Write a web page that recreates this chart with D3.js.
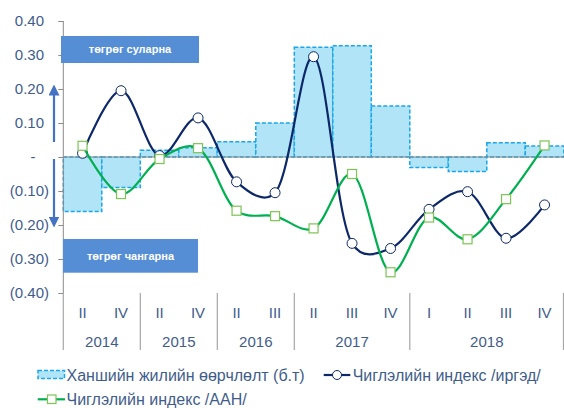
<!DOCTYPE html>
<html><head><meta charset="utf-8">
<script src="https://cdn.jsdelivr.net/npm/d3@7"></script>
<style>body{margin:0;background:#fff}svg{display:block;font-family:"Liberation Sans",Arial,sans-serif}</style>
</head><body><svg id="c" width="564" height="408"></svg>
<script>
const quarters = ["II","IV","II","IV","II","III","II","III","IV","I","II","III","IV"];
const years = [{label:"2014",start:0,end:2},{label:"2015",start:2,end:4},{label:"2016",start:4,end:6},{label:"2017",start:6,end:9},{label:"2018",start:9,end:13}];
const rateChange = [-0.16,-0.09,0.02,0.027,0.045,0.10,0.323,0.327,0.15,-0.031,-0.043,0.042,0.032];
const indexCitizens = [0.011,0.195,0.004,0.115,-0.073,-0.105,0.295,-0.254,-0.269,-0.154,-0.102,-0.239,-0.141];
const indexBusiness = [0.033,-0.109,-0.006,0.026,-0.158,-0.174,-0.21,-0.05,-0.339,-0.178,-0.242,-0.124,0.034];
const yTicks = [0.4,0.3,0.2,0.1,0,-0.1,-0.2,-0.3,-0.4];
const yTickLabels = ["0.40","0.30","0.20","0.10","-","(0.10)","(0.20)","(0.30)","(0.40)"];
const seriesNames = ["Ханшийн жилийн өөрчлөлт (б.т)","Чиглэлийн индекс /иргэд/","Чиглэлийн индекс /ААН/"];
const boxLabels = ["төгрөг суларна","төгрөг чангарна"];

const svg = d3.select("#c");
const txt = "#3f5d8c";
const idx = d3.range(quarters.length);
const x = d3.scaleBand().domain(idx).range([63.3,563.8]).padding(0);
const y = d3.scaleLinear().domain([-0.4,0.4]).range([293,21]);
const cx = i => x(i)+x.bandwidth()/2;

// bars
svg.append("g").selectAll("rect").data(rateChange).join("rect")
  .attr("x",(d,i)=>x(i)).attr("width",x.bandwidth())
  .attr("y",d=>y(Math.max(0,d))).attr("height",d=>Math.abs(y(d)-y(0)))
  .attr("fill","#b0e4f6").attr("stroke","#1aa7ea").attr("stroke-width",1.5).attr("stroke-dasharray","4,2");

// zero line
svg.append("line").attr("x1",63.3).attr("x2",564).attr("y1",y(0)).attr("y2",y(0)).attr("stroke","#8a8a8a").attr("stroke-width",1.2);

// y axis
const yAxis = d3.axisLeft(y).tickValues(yTicks).tickSize(5).tickFormat("");
const ga = svg.append("g").attr("transform","translate(63.3,0)").call(yAxis);
ga.selectAll("path,line").attr("stroke","#8a8a8a");
ga.select("path").attr("d","M0,21V293");
svg.append("g").selectAll("text").data(yTicks).join("text")
  .attr("x",(d,i)=> d<0 ? 49 : (d===0 ? 33 : 44))
  .attr("y",d=>y(d)).attr("dy","0.35em")
  .attr("text-anchor",d=> d===0 ? "middle" : "end")
  .attr("font-size",15).attr("fill",txt)
  .text((d,i)=>yTickLabels[i]);

// category axis
svg.append("g").selectAll("text").data(quarters).join("text")
  .attr("x",(d,i)=>cx(i)).attr("y",313).attr("dy","0.35em").attr("text-anchor","middle")
  .attr("font-size",15).attr("fill",txt).text(d=>d);
const divs = years.map(d=>d.start).concat([13]);
svg.append("g").selectAll("line").data(divs).join("line")
  .attr("x1",d=>d<13?x(d):563.5).attr("x2",d=>d<13?x(d):563.5).attr("y1",293).attr("y2",350)
  .attr("stroke","#a6a6a6").attr("stroke-width",1.2);
svg.append("g").selectAll("text").data(years).join("text")
  .attr("x",d=>(x(d.start)+(d.end<13?x(d.end):563.8))/2).attr("y",341.5).attr("dy","0.35em").attr("text-anchor","middle")
  .attr("font-size",15).attr("fill",txt).text(d=>d.label);

// boxes
const boxes = [{x0:61,x1:199,y0:36,y1:63},{x0:63,x1:198,y0:239,y1:272.7}];
boxes.forEach((b,i)=>{
  svg.append("rect").attr("x",b.x0).attr("y",b.y0).attr("width",b.x1-b.x0).attr("height",b.y1-b.y0).attr("fill","#558ed5");
  svg.append("text").attr("x",(b.x0+b.x1)/2).attr("y",(b.y0+b.y1)/2).attr("dy","0.35em").attr("text-anchor","middle")
    .attr("font-size",11).attr("font-weight","bold").attr("fill","#fff").text(boxLabels[i]);
});

// arrows
const defs = svg.append("defs");
defs.append("marker").attr("id","ah").attr("viewBox","0 0 10 10").attr("refX",5).attr("refY",5)
  .attr("markerWidth",5).attr("markerHeight",5).attr("orient","auto-start-reverse")
  .append("path").attr("d","M0,0L10,5L0,10z").attr("fill","#4472c4");
svg.append("line").attr("x1",54).attr("x2",54).attr("y1",142).attr("y2",90).attr("stroke","#4472c4").attr("stroke-width",2.2).attr("marker-end","url(#ah)");
svg.append("line").attr("x1",54).attr("x2",54).attr("y1",159).attr("y2",222).attr("stroke","#4472c4").attr("stroke-width",2.2).attr("marker-end","url(#ah)");

// lines
const line = d3.line().x((d,i)=>cx(i)).y(d=>y(d)).curve(d3.curveCatmullRom.alpha(0.25));
svg.append("path").datum(indexCitizens).attr("d",line).attr("fill","none").attr("stroke","#0c2868").attr("stroke-width",2.2);
svg.append("g").selectAll("circle").data(indexCitizens).join("circle")
  .attr("cx",(d,i)=>cx(i)).attr("cy",d=>y(d)).attr("r",5).attr("fill","#fff").attr("stroke","#0c2868").attr("stroke-width",1);
svg.append("path").datum(indexBusiness).attr("d",line).attr("fill","none").attr("stroke","#00b050").attr("stroke-width",2.2);
svg.append("g").selectAll("rect").data(indexBusiness).join("rect")
  .attr("x",(d,i)=>cx(i)-4.5).attr("y",d=>y(d)-4.5).attr("width",9).attr("height",9).attr("fill","#fff").attr("stroke","#7dc455").attr("stroke-width",1.2);

// legend
const lg = svg.append("g");
lg.append("rect").attr("x",38).attr("y",370.5).attr("width",26.5).attr("height",8).attr("fill","#b0e4f6").attr("stroke","#1aa7ea").attr("stroke-width",1.5).attr("stroke-dasharray","4,2");
lg.append("text").attr("x",66.5).attr("y",375).attr("dy","0.35em").attr("font-size",16).attr("fill",txt).text(seriesNames[0]);
lg.append("line").attr("x1",323.7).attr("x2",350.3).attr("y1",375).attr("y2",375).attr("stroke","#0c2868").attr("stroke-width",2.2);
lg.append("circle").attr("cx",337).attr("cy",375).attr("r",4.5).attr("fill","#fff").attr("stroke","#0c2868").attr("stroke-width",1);
lg.append("text").attr("x",352.7).attr("y",375).attr("dy","0.35em").attr("font-size",16).attr("fill",txt).text(seriesNames[1]);
lg.append("line").attr("x1",37.7).attr("x2",65).attr("y1",399.3).attr("y2",399.3).attr("stroke","#00b050").attr("stroke-width",2.2);
lg.append("rect").attr("x",47.5).attr("y",395).attr("width",8.5).attr("height",8.5).attr("fill","#fff").attr("stroke","#7dc455").attr("stroke-width",1.2);
lg.append("text").attr("x",66.5).attr("y",399.3).attr("dy","0.35em").attr("font-size",16).attr("fill",txt).text(seriesNames[2]);
</script></body></html>
